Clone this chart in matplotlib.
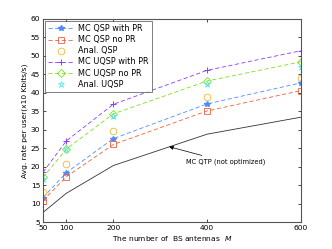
import matplotlib
matplotlib.use("Agg")
import matplotlib.pyplot as plt

M = [50, 100, 200, 400, 600]
mc_qsp_pr = [11.6, 18.4, 27.6, 37.0, 42.7]
mc_qsp_nopr = [10.8, 17.3, 26.0, 35.1, 40.6]
anal_qsp = [13.0, 20.6, 29.6, 38.8, 43.9]
mc_uqsp_pr = [18.5, 27.0, 36.9, 46.1, 51.4]
mc_uqsp_nopr = [17.1, 24.8, 34.3, 43.2, 48.4]
anal_uqsp = [16.6, 24.7, 33.7, 42.4, 46.9]
mc_qtp = [7.6, 12.8, 20.3, 28.8, 33.4]

xticks = [50, 100, 200, 400, 600]
yticks = list(range(5, 61, 5))

fig = plt.figure(figsize=(3.32, 2.49), dpi=100)
ax = fig.add_axes([0.1295, 0.1084, 0.777, 0.8153])
fs = 5.4
dash = (0, (5, 3))
ax.plot(M, mc_qsp_pr, color='#4d8cff', ls=dash, lw=0.6, marker='*', ms=4, label='MC QSP with PR')
ax.plot(M, mc_qsp_nopr, color='#f0603c', ls=dash, lw=0.6, marker='s', ms=4, mfc='none', mew=0.6, label='MC QSP no PR')
ax.plot(M, anal_qsp, color='#f2b430', ls='none', marker='o', ms=4.8, mfc='none', mew=0.6, label='Anal. QSP')
ax.plot(M, mc_uqsp_pr, color='#8a3cff', ls=dash, lw=0.6, marker='+', ms=5, mew=0.7, label='MC UQSP with PR')
ax.plot(M, mc_uqsp_nopr, color='#7ee01e', ls=dash, lw=0.6, marker='D', ms=3.8, mfc='none', mew=0.6, label='MC UQSP no PR')
ax.plot(M, anal_uqsp, color='#3ce6f0', ls='none', marker='*', ms=5, mfc='none', mew=0.5, label='Anal. UQSP')
ax.plot(M, mc_qtp, color='#333333', ls='-', lw=0.6)

ax.set_xlim(50, 600)
ax.set_ylim(5, 60)
ax.set_xticks(xticks)
ax.set_yticks(yticks)
ax.tick_params(direction='in', length=2.5, width=0.5, labelsize=fs, top=True, right=True, pad=2)
for s in ax.spines.values():
    s.set_linewidth(0.8)
    s.set_color('#555555')
ax.set_xlabel('The number of  BS antennas  $M$', fontsize=fs, labelpad=2)
ax.set_ylabel('Avg. rate per user(x10 Kbits/s)', fontsize=fs, labelpad=2)

ax.annotate('MC QTP (not optimized)', xy=(319, 25.4), xytext=(355, 21.3), fontsize=4.8,
            va='center', ha='left',
            arrowprops=dict(arrowstyle='-|>', color='black', lw=0.5, mutation_scale=6, shrinkA=1, shrinkB=0))

leg = ax.legend(loc='upper left', fontsize=5.9, frameon=True, fancybox=False, edgecolor='#444444',
                borderaxespad=0.25, handlelength=3.0, labelspacing=0.25, borderpad=0.4, handletextpad=0.6)
leg.get_frame().set_linewidth(0.6)

fig.savefig('out.png', dpi=100)
